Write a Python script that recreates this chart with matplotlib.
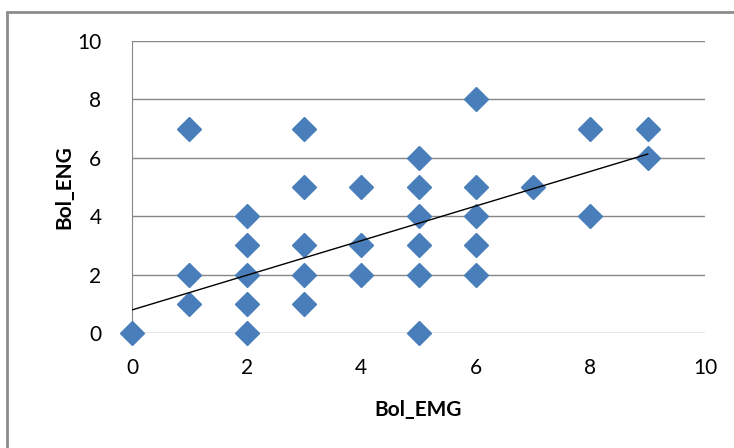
import matplotlib.pyplot as plt
from matplotlib.patches import Rectangle
import numpy as np

# scatter data (Bol_EMG vs Bol_ENG)
bol_emg = [0, 1, 1, 1, 2, 2, 2, 2, 2, 3, 3, 3, 3, 3, 4, 4, 4,
           5, 5, 5, 5, 5, 5, 6, 6, 6, 6, 6, 7, 8, 8, 9, 9]
bol_eng = [0, 7, 2, 1, 4, 3, 2, 1, 0, 7, 5, 3, 2, 1, 5, 3, 2,
           6, 5, 4, 3, 2, 0, 8, 5, 4, 3, 2, 5, 7, 4, 7, 6]

# linear trendline as drawn in the chart
trend_intercept = 0.79
trend_slope = 0.593

ticks = [0, 2, 4, 6, 8, 10]

fig = plt.figure(figsize=(7.34, 4.48), dpi=100)
ax = fig.add_axes([132 / 734, 1 - 333 / 448, (705 - 132) / 734, (333 - 41) / 448])

# outer chart border (runs off the right and bottom edges)
fig.patches.append(Rectangle((7 / 734, -0.1), 1.2, 1 - 12 / 448 + 0.1,
                             transform=fig.transFigure, fill=False,
                             edgecolor="#8c8c8c", linewidth=2))

ax.plot(bol_emg, bol_eng, linestyle="none", marker="D", markersize=12.5,
        color="#4a7ebb", markeredgecolor="#4a7ebb", clip_on=False, zorder=3)

tx = np.array([min(bol_emg), max(bol_emg)])
ax.plot(tx, trend_intercept + trend_slope * tx, color="black", linewidth=1, zorder=4)

ax.set_xlim(0, 10)
ax.set_ylim(0, 10)
ax.set_xticks(ticks)
ax.set_yticks(ticks)
ax.tick_params(axis="x", length=0, labelsize=15, pad=18)
ax.tick_params(axis="y", length=0, labelsize=15, pad=22)
for lab in ax.get_xticklabels() + ax.get_yticklabels():
    lab.set_fontfamily("Lato")
ax.grid(True, axis="y", color="#868686", linewidth=1)
ax.set_axisbelow(True)
for side in ["top", "right", "bottom"]:
    ax.spines[side].set_visible(False)
ax.spines["left"].set_color("#868686")

ax.set_xlabel("Bol_EMG", fontsize=15, fontweight="bold", family="Lato", labelpad=16)
ax.set_ylabel("Bol_ENG", fontsize=15, fontweight="bold", family="Lato", labelpad=2)

fig.savefig("out.png", dpi=100)
